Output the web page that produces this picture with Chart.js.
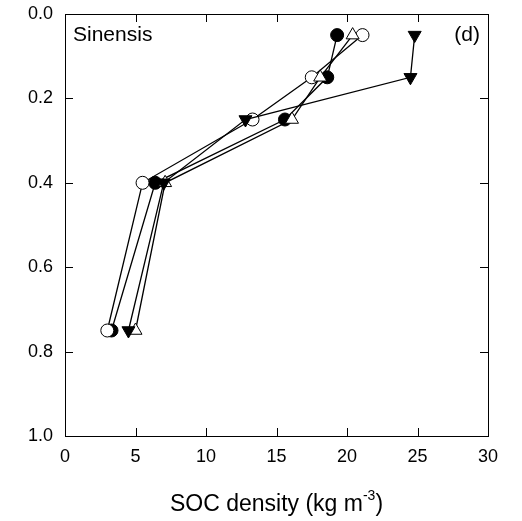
<!DOCTYPE html>
<html>
<head>
<meta charset="utf-8">
<script src="https://cdn.jsdelivr.net/npm/chart.js@4"></script>
<style>
  html, body { margin: 0; padding: 0; background: #fff; }
  #wrap { width: 522px; height: 521px; }
</style>
</head>
<body>
<div id="wrap"><canvas id="chart"></canvas></div>
<script>
const depths = [0.05, 0.15, 0.25, 0.4, 0.75]

const filledCircle = [19.3, 18.6, 15.6, 6.4, 3.3]
const openCircle = [21.1, 17.5, 13.3, 5.5, 3.0]
const filledTriangle = [24.8, 24.5, 12.8, 7.0, 4.5]
const openTriangle = [20.4, 18.1, 16.1, 7.1, 5.0]

const xTicks = [0, 5, 10, 15, 20, 25, 30]
const yTicks = [0, 0.2, 0.4, 0.6, 0.8, 1.0]

const font = 'Liberation Sans, Arial, sans-serif'

const toPoints = (values) => values.map((x, i) => ({ x: x, y: depths[i] }))

const series = (values, style, fill, rotation) => ({
  data: toPoints(values),
  showLine: true,
  borderColor: '#000',
  borderWidth: 1.3,
  pointStyle: style,
  pointRotation: rotation || 0,
  pointRadius: style === 'circle' ? 6.5 : 7.5,
  pointBackgroundColor: fill,
  pointBorderColor: '#000',
  pointBorderWidth: 1
})

// inside ticks, full frame, labels and axis title
const framePlugin = {
  id: 'frame',
  afterDraw(chart) {
    const { ctx, chartArea: a, scales } = chart
    ctx.save()
    ctx.strokeStyle = '#000'
    ctx.lineWidth = 1
    ctx.strokeRect(a.left + 0.5, a.top + 0.5, a.right - a.left, a.bottom - a.top)

    xTicks.forEach((v) => {
      const px = Math.round(scales.x.getPixelForValue(v)) + 0.5
      ctx.beginPath()
      ctx.moveTo(px, a.bottom); ctx.lineTo(px, a.bottom - 8)
      ctx.moveTo(px, a.top); ctx.lineTo(px, a.top + 8)
      ctx.stroke()
    })
    yTicks.forEach((v) => {
      const py = Math.round(scales.y.getPixelForValue(v)) + 0.5
      ctx.beginPath()
      ctx.moveTo(a.left, py); ctx.lineTo(a.left + 8, py)
      ctx.moveTo(a.right, py); ctx.lineTo(a.right - 8, py)
      ctx.stroke()
    })

    ctx.fillStyle = '#000'
    ctx.font = '21px ' + font
    ctx.textBaseline = 'middle'
    ctx.textAlign = 'left'
    ctx.fillText('Sinensis', a.left + 8, 35)
    ctx.textAlign = 'right'
    ctx.fillText('(d)', a.right - 8, 35)

    // x title with superscript
    const main = 'SOC density (kg m'
    const sup = '-3'
    const end = ')'
    ctx.textBaseline = 'alphabetic'
    ctx.textAlign = 'left'
    ctx.font = '23px ' + font
    const w1 = ctx.measureText(main).width
    const w3 = ctx.measureText(end).width
    ctx.font = '14px ' + font
    const w2 = ctx.measureText(sup).width
    const total = w1 + w2 + w3
    let x = (a.left + a.right) / 2 - total / 2
    const base = 511
    ctx.font = '23px ' + font
    ctx.fillText(main, x, base)
    x += w1
    ctx.font = '14px ' + font
    ctx.fillText(sup, x, base - 11)
    x += w2
    ctx.font = '23px ' + font
    ctx.fillText(end, x, base)
    ctx.restore()
  }
}

new Chart(document.getElementById('chart'), {
  type: 'scatter',
  data: {
    datasets: [
      series(filledTriangle, 'triangle', '#000', 180),
      series(openTriangle, 'triangle', '#fff'),
      series(openCircle, 'circle', '#fff'),
      series(filledCircle, 'circle', '#000')
    ]
  },
  options: {
    responsive: true,
    maintainAspectRatio: false,
    animation: false,
    layout: { padding: { top: 14, right: 34, left: 0, bottom: 0 } },
    plugins: {
      legend: { display: false },
      tooltip: { enabled: false }
    },
    scales: {
      x: {
        type: 'linear',
        min: 0,
        max: 30,
        afterBuildTicks: (s) => { s.ticks = xTicks.map((v) => ({ value: v })) },
        afterFit: (s) => { s.height = 85; s.paddingLeft = 0; s.paddingRight = 0 },
        grid: { display: false, drawTicks: false },
        border: { display: false },
        ticks: {
          color: '#000',
          padding: 10,
          font: { family: font, size: 18 },
          maxRotation: 0
        }
      },
      y: {
        type: 'linear',
        min: 0,
        max: 1,
        reverse: true,
        afterBuildTicks: (s) => { s.ticks = yTicks.map((v) => ({ value: v })) },
        afterFit: (s) => { s.width = 65; s.paddingTop = 0; s.paddingBottom = 0 },
        grid: { display: false, drawTicks: false },
        border: { display: false },
        ticks: {
          color: '#000',
          padding: 12,
          font: { family: font, size: 18 },
          callback: (v) => v.toFixed(1)
        }
      }
    }
  },
  plugins: [framePlugin]
})
</script>
</body>
</html>
